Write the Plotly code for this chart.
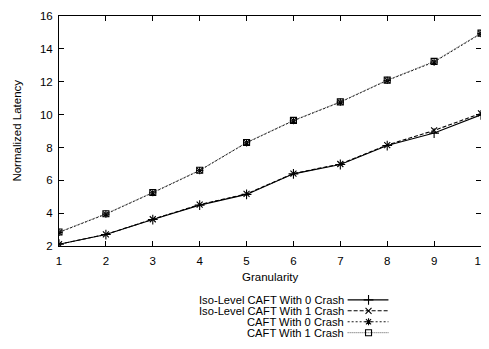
import plotly.graph_objects as go

granularity = [1, 2, 3, 4, 5, 6, 7, 8, 9, 10]
iso_0_crash = [2.12, 2.71, 3.62, 4.5, 5.15, 6.4, 6.97, 8.12, 8.88, 9.99]
iso_1_crash = [2.12, 2.72, 3.64, 4.53, 5.18, 6.42, 7.0, 8.15, 9.04, 10.08]
caft_0_crash = [2.84, 3.95, 5.25, 6.6, 8.29, 9.63, 10.76, 12.08, 13.2, 14.93]
caft_1_crash = [2.86, 3.97, 5.27, 6.62, 8.31, 9.65, 10.78, 12.1, 13.24, 14.96]
series_names = ["Iso-Level CAFT With 0 Crash", "Iso-Level CAFT With 1 Crash",
                "CAFT With 0 Crash", "CAFT With 1 Crash"]
x_ticks = [1, 2, 3, 4, 5, 6, 7, 8, 9, 10]
y_ticks = [2, 4, 6, 8, 10, 12, 14, 16]

FONT = "Liberation Sans, Arial, Helvetica, sans-serif"
styles = [
    dict(dash="solid", symbol="cross-thin-open", size=7, color="#000000", width=1.1),
    dict(dash="4px,2px", symbol="x-thin-open", size=6, color="#000000", width=1.1),
    dict(dash="2px,2px", symbol="asterisk-open", size=6, color="#000000", width=0.9),
    dict(dash="1px,1px", symbol="square-open", size=6, color="#444444", width=0.9),
]
values = [iso_0_crash, iso_1_crash, caft_0_crash, caft_1_crash]

# the page body has an 8px margin: lay out in page pixels minus 8
OFF = 8
W, H = 489 - OFF, 349 - OFF
plot_left, plot_right, plot_top, plot_bottom = 59 - OFF, 483 - OFF, 11 - OFF, 249 - OFF
mb = 2
ml, mr, mt = plot_left, W - plot_right, plot_top
paper_h = H - mt - mb
ydom_low = (H - mb - plot_bottom) / paper_h
plot_h = plot_bottom - plot_top

fig = go.Figure()
for name, vals, st in zip(series_names, values, styles):
    fig.add_trace(go.Scatter(
        x=granularity, y=vals, mode="lines+markers", name=name,
        line=dict(color=st["color"], width=st["width"], dash=st["dash"]),
        marker=dict(symbol=st["symbol"], size=st["size"],
                    line=dict(color="#000000", width=1.1), color="#000000"),
        showlegend=False, xaxis="x", yaxis="y"))

# legend drawn in a hidden helper axis (pixel units of the figure)
leg_rows_px = [r - OFF for r in (304.5, 315.8, 327.1, 338.4)]
leg_bottom_px = H - mb
leg_top_px = 288 - OFF
for name, st, ry in zip(series_names, styles, leg_rows_px):
    fig.add_trace(go.Scatter(
        x=[349 - OFF, 390 - OFF], y=[ry, ry], mode="lines",
        line=dict(color=st["color"], width=st["width"], dash=st["dash"]),
        showlegend=False, hoverinfo="skip", xaxis="x2", yaxis="y2"))
    fig.add_trace(go.Scatter(
        x=[370 - OFF], y=[ry], mode="markers",
        marker=dict(symbol=st["symbol"], size=st["size"],
                    line=dict(color="#000000", width=1.1), color="#000000"),
        showlegend=False, hoverinfo="skip", xaxis="x2", yaxis="y2"))
    fig.add_annotation(x=346 - OFF, y=ry, xref="x2", yref="y2", text=name,
                       showarrow=False, xanchor="right", yanchor="middle",
                       borderpad=0,
                       font=dict(family=FONT, size=11.2, color="#000000"))

axis_common = dict(showline=True, linecolor="#000000", linewidth=1, mirror="allticks",
                   ticks="inside", ticklen=5, tickwidth=1, tickcolor="#000000",
                   showgrid=False, zeroline=False, ticklabeloverflow="allow",
                   tickfont=dict(family=FONT, size=11.5, color="#000000"))

fig.update_layout(
    width=W, height=H,
    margin=dict(l=ml, r=mr, t=mt, b=mb),
    paper_bgcolor="#ffffff", plot_bgcolor="#ffffff",
    xaxis=dict(range=[1, 10], tickvals=x_ticks, domain=[0, 1], anchor="y",
               ticklabelstandoff=4, **axis_common),
    yaxis=dict(range=[2, 16], tickvals=y_ticks, domain=[ydom_low, 1], anchor="x",
               ticklabelstandoff=3, **axis_common),
    xaxis2=dict(range=[ml, W - mr], domain=[0, 1], anchor="y2", visible=False,
                fixedrange=True),
    yaxis2=dict(range=[leg_bottom_px, leg_top_px],
                domain=[0, (leg_bottom_px - leg_top_px) / paper_h],
                anchor="x2", visible=False, fixedrange=True),
    font=dict(family=FONT, size=11.5, color="#000000"),
)
fig.add_annotation(x=0.5, y=-(281 - 249) / plot_h, xref="x domain", yref="y domain",
                   text="Granularity", showarrow=False, xanchor="center", yanchor="middle",
                   font=dict(family=FONT, size=11.5))
fig.add_annotation(x=0, y=0.5, xref="x domain", yref="y domain", text="Normalized Latency",
                   showarrow=False, xanchor="center", yanchor="middle", textangle=-90,
                   xshift=-41.5, font=dict(family=FONT, size=11.5))

fig.write_html("out.html", config={"displayModeBar": False})
